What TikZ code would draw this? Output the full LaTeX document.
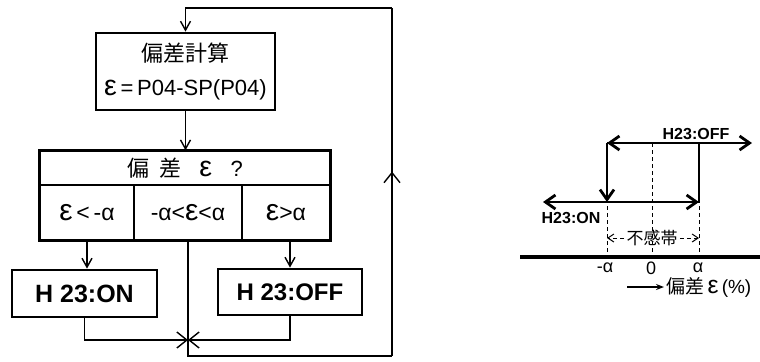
\documentclass[tikz,border=0pt]{standalone}
\usepackage{fontspec}
\setmainfont{Liberation Sans}
\newfontfamily\jp{Noto Sans CJK JP}
\usetikzlibrary{arrows.meta, decorations.markings}

\newcommand\ep{\scalebox{1.3}{ε}}

\tikzset{
  box/.style={draw, line width=1.4pt, inner sep=0pt, align=center},
  cell/.style={draw, line width=0.7pt, inner sep=0pt},
  flow/.style={line width=0.7pt},
  tip/.style={-{Straight Barb[length=4.5pt,width=5pt]}},
  jtip/.style={-{Straight Barb[length=5pt,width=8pt]}},
  hys/.style={line width=1.4pt},
  htip/.style={-{Straight Barb[length=5pt,width=7pt]}},
  guide/.style={line width=0.5pt, dash pattern=on 2pt off 1.5pt},
  tick/.style={font=\fontsize{9}{9}\selectfont, inner sep=1pt}
}

\begin{document}
\begin{tikzpicture}[x=0.5pt, y=-0.5pt]
  \useasboundingbox (0,0) rectangle (760,361);
  \node[box, minimum width=89.5pt, minimum height=38.5pt, font=\fontsize{11}{16}\selectfont] (calc) at (185.5,71.5) {{\jp 偏差計算}\\[1pt] \ep\,=\,P04-SP(P04)};
  \node[cell, minimum width=145pt, minimum height=17pt, font=\fontsize{11}{12}\selectfont] (dhead) at (185,168) {{\jp 偏\ \ 差}\ \ \ \ep\ \ \ ?};
  \node[cell, minimum width=47pt, minimum height=27.5pt, font=\fontsize{11.5}{12}\selectfont] (lo) at (87,212.5) {\ep\,<\,-α};
  \node[cell, minimum width=54pt, minimum height=27.5pt, font=\fontsize{11.5}{12}\selectfont] (mid) at (188,212.5) {-α<\ep<α};
  \node[cell, minimum width=44pt, minimum height=27.5pt, font=\fontsize{11.5}{12}\selectfont] (hi) at (286,212.5) {\ep>α};
  \draw[line width=1.4pt] (dhead.north west) rectangle (hi.south east);
  \node[box, minimum width=72.5pt, minimum height=23.5pt, font=\bfseries\fontsize{12.5}{13}\selectfont] (on) at (84.5,293.5) {H 23:ON};
  \node[box, minimum width=72pt, minimum height=23pt, font=\bfseries\fontsize{12}{13}\selectfont] (off) at (290,292) {H 23:OFF};

  \coordinate (jn) at (188,340);
  \coordinate (lpb) at (392,356);
  \coordinate (lpt) at (392,8);
  \draw[flow,tip] (calc.south) -- (calc.south |- dhead.north);
  \draw[flow,tip] (lo.south) -- (lo.south |- on.north);
  \draw[flow,tip] (off.north |- hi.south) -- (off.north);
  \draw[flow,jtip] (on.south) |- (jn);
  \draw[flow,jtip] (off.south) |- (jn);
  \draw[flow] (mid.south) |- (lpb);
  \draw[flow, postaction=decorate, decoration={markings, mark=at position 0.53 with {\arrow{Straight Barb[length=5pt,width=8pt]}}}] (lpb) -- (lpt);
  \draw[flow,tip] (lpt) -| (calc.north);

  \draw[line width=1.8pt] (520,257) -- (760,257);
  \foreach \x in {607,652,699}
    \draw[guide] (\x,143) -- (\x,257);
  \draw[hys, htip] (699,202) -- (543,202);
  \draw[hys, htip] (607,202) -- (699,202);
  \draw[hys] (699,202) -- (699,143);
  \draw[hys, htip] (699,143) -- (607,143);
  \draw[hys, htip] (607,143) -- (752,143);
  \draw[hys, htip] (607,143) -- (607,202);
  \node[font=\bfseries\fontsize{8}{9}\selectfont] (offlbl) at (696,134) {H23:OFF};
  \node[font=\bfseries\fontsize{8}{9}\selectfont] (onlbl) at (571,218) {H23:ON};
  \node[font=\jp\fontsize{8.5}{9}\selectfont, inner sep=1pt] (db) at (652,238) {不感帯};
  \draw[guide, -{Straight Barb[length=3pt,width=4pt]}] (db.west) -- (607,238);
  \draw[guide, -{Straight Barb[length=3pt,width=4pt]}] (db.east) -- (699,238);
  \node[tick] (ma) at (605,268) {-α};
  \node[tick] (zero) at (651,268) {0};
  \node[tick] (pa) at (698,268) {α};
  \coordinate (ax0) at (627,287);
  \node[font=\fontsize{9.5}{10}\selectfont, anchor=west, inner sep=1pt] (axlbl) at (664,287) {{\jp 偏差}\,\ep\,(\%)};
  \draw[line width=0.7pt, -{Stealth[length=4pt,width=3pt]}] (ax0) -- (axlbl.west);
\end{tikzpicture}
\end{document}
